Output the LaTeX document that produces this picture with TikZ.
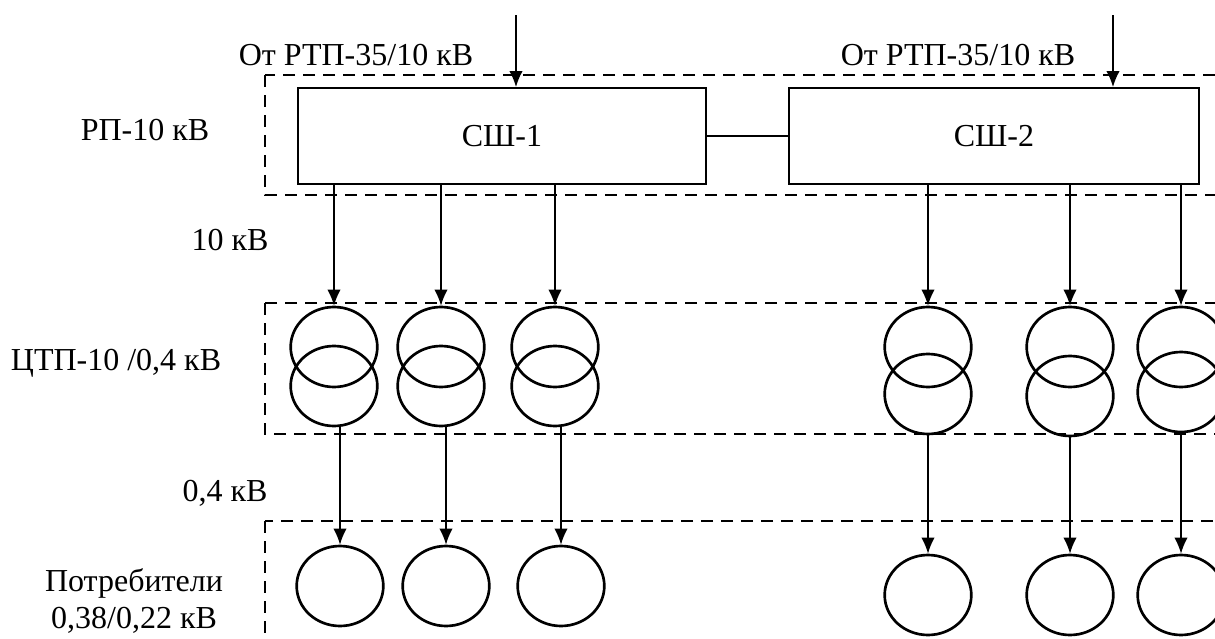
\documentclass[tikz,border=0pt]{standalone}
\usepackage{fontspec}
\setmainfont{Liberation Serif}
\usetikzlibrary{arrows.meta,shapes.geometric}

\begin{document}
\begin{tikzpicture}[x=0.75pt,y=-0.75pt,
	every node/.style={font=\fontsize{24}{28}\selectfont},
	bus/.style={draw,line width=1.4pt,minimum width=306pt,minimum height=72pt},
	trans/.style={draw,ellipse,line width=2pt,inner sep=0pt,minimum width=65pt,minimum height=60pt},
	zone/.style={line width=1.8pt,dash pattern=on 9pt off 6pt},
	feed/.style={line width=1.1pt,-{Latex[length=12pt,width=10pt]}}]
	\useasboundingbox (0,0) rectangle (1215,639);
	\clip (0,0) rectangle (1215,639);

	% zones
	\draw[zone] (265,75) rectangle (1240,195);
	\draw[zone] (265,303) rectangle (1240,434);
	\draw[zone] (265,521) rectangle (1240,680);

	% busbars
	\node[bus] (sh1) at (502,136) {СШ-1};
	\node[bus,minimum width=308pt] (sh2) at (994,136) {СШ-2};
	\draw[line width=1.4pt] (sh1.east) -- (sh2.west);

	\coordinate (in1) at (516,15);
	\coordinate (in2) at (1113,15);
	\draw[feed] (in1) -- (in1 |- sh1.north);
	\draw[feed] (in2) -- (in2 |- sh2.north);

	% transformers and consumers
	\foreach \n/\x/\y in {1/334/386,2/441/386,3/555/386,4/928/394,5/1070/396,6/1181/392}{
		\node[trans] (t\n a) at (\x,347) {};
		\node[trans] (t\n b) at (\x,\y) {};
	}
	\foreach \n/\x/\y in {1/340/586,2/446/586,3/561/586,4/928/595,5/1070/595,6/1181/595}{
		\node[trans] (c\n) at (\x,\y) {};
		\draw[feed] (t\n b.south -| c\n.north) -- (c\n.north);
	}
	\foreach \n in {1,2,3}{
		\draw[feed] (sh1.south -| t\n a.north) -- (t\n a.north);
	}
	\foreach \n in {4,5,6}{
		\draw[feed] (sh2.south -| t\n a.north) -- (t\n a.north);
	}

	% labels
	\node (src1) at (356,55) {От РТП-35/10 кВ};
	\node (src2) at (958,55) {От РТП-35/10 кВ};
	\node (rp) at (145,130) {РП-10 кВ};
	\node (u10) at (230,240) {10 кВ};
	\node (ctp) at (116,363) {ЦТП-10 /0,4 кВ};
	\node (u04) at (225,493) {0,4 кВ};
	\node[align=center] (cons) at (134,601) {Потребители\\0,38/0,22 кВ};
\end{tikzpicture}
\end{document}
